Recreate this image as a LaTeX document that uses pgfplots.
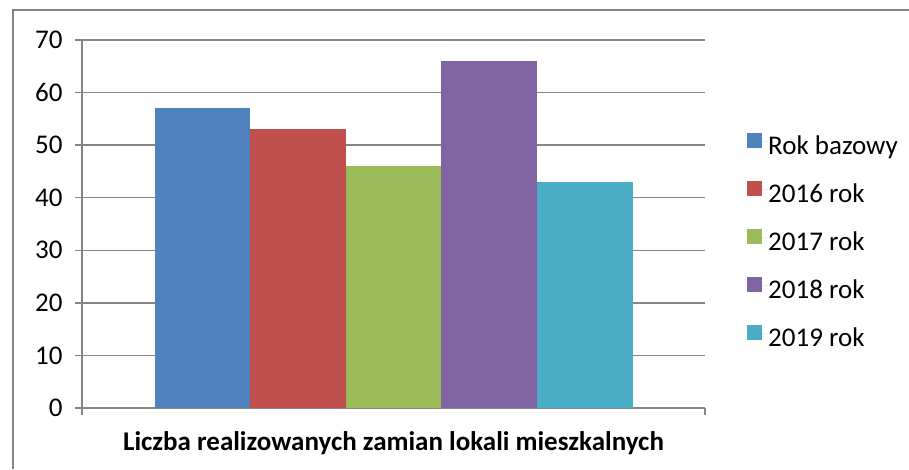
\documentclass[border=0pt]{standalone}
\usepackage{fontspec}
\setmainfont{Carlito}
\usepackage{pgfplots}
\pgfplotsset{compat=1.18}
\definecolor{c1}{HTML}{4F81BD}
\definecolor{c2}{HTML}{C0504D}
\definecolor{c3}{HTML}{9BBB59}
\definecolor{c4}{HTML}{8064A2}
\definecolor{c5}{HTML}{4BACC6}
\definecolor{gridc}{HTML}{868686}
\begin{document}
\begin{tikzpicture}
\useasboundingbox (0,0) rectangle (909pt,469pt);
\draw[gridc, line width=1.4pt] (13pt,0pt) -- (13pt,459pt) -- (909pt,459pt);
\begin{axis}[
  at={(82pt,61pt)}, anchor=south west,
  scale only axis, width=623pt, height=368pt,
  ybar=0pt, bar width=95.6pt,
  xmin=-1, xmax=1, ymin=0, ymax=70,
  ytick={0,10,...,70},
  xtick=\empty,
  extra x ticks={-1,1}, extra x tick labels={},
  extra x tick style={major tick length=7pt, tick align=outside, grid=none},
  axis lines*=left,
  axis line style={gridc, line width=1.4pt},
  ymajorgrids, grid style={gridc, line width=1.4pt},
  major tick length=7pt, tick align=outside,
  tick style={gridc, line width=1.4pt},
  ytick pos=left, xtick pos=bottom,
  /pgf/number format/assume math mode=true,
  ticklabel style={font=\fontsize{27}{32}\selectfont},
  yticklabel style={xshift=-9pt},
  xlabel={\textbf{Liczba realizowanych zamian lokali mieszkalnych}},
  xlabel style={font=\fontsize{27}{32}\selectfont, at={(axis description cs:0.5,-0.0960)}, anchor=center},
  legend style={draw=none, fill=none, at={(axis description cs:1.0674,0.7473)}, anchor=north west,
    font=\fontsize{27}{32}\selectfont, row sep=21pt, inner sep=0pt,
    nodes={inner sep=0pt, text height=18pt, text depth=6pt, anchor=west}},
  legend cell align=left,
  legend image code/.code={\fill[#1,draw=none] (0pt,0pt) rectangle (15pt,15pt); \path (0pt,7pt) -- (21pt,7pt);},
  every axis plot/.append style={draw=none},
]
\addplot[fill=c1] coordinates {(0,57)};
\addplot[fill=c2] coordinates {(0,53)};
\addplot[fill=c3] coordinates {(0,46)};
\addplot[fill=c4] coordinates {(0,66)};
\addplot[fill=c5] coordinates {(0,43)};
\legend{Rok bazowy,2016 rok,2017 rok,2018 rok,2019 rok}
\end{axis}
\end{tikzpicture}
\end{document}
